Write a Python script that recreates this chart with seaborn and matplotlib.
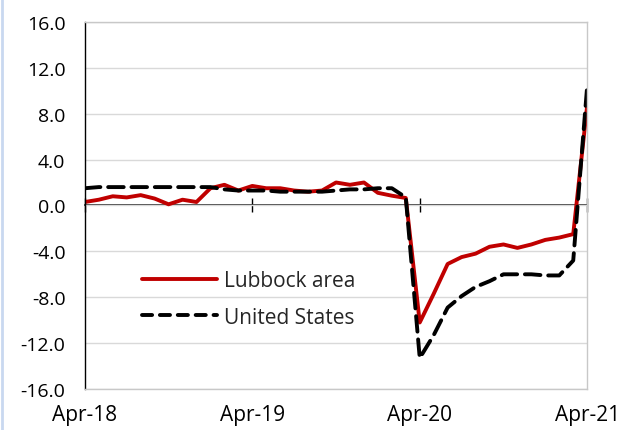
import numpy as np
import pandas as pd
import matplotlib.pyplot as plt
import seaborn as sns

# monthly year-over-year employment change (%), Apr-18 .. Apr-21
months = list(range(37))
lubbock = [0.3, 0.5, 0.8, 0.7, 0.9, 0.6, 0.1, 0.5, 0.3, 1.5,
           1.8, 1.3, 1.7, 1.5, 1.5, 1.3, 1.2, 1.3, 2.0, 1.8,
           2.0, 1.1, 0.85, 0.65, -10.2, -7.7, -5.1, -4.5, -4.2, -3.6,
           -3.4, -3.7, -3.4, -3.0, -2.8, -2.5, 8.7]
us = [1.5, 1.6, 1.6, 1.6, 1.6, 1.6, 1.6, 1.6, 1.6, 1.6,
      1.4, 1.3, 1.3, 1.3, 1.2, 1.2, 1.2, 1.2, 1.3, 1.4,
      1.4, 1.5, 1.5, 0.7, -13.3, -11.3, -8.9, -7.9, -7.1, -6.6,
      -6.0, -6.0, -6.0, -6.1, -6.1, -4.8, 10.4]
tick_pos = [0, 12, 24, 36]
tick_labels = ["Apr-18", "Apr-19", "Apr-20", "Apr-21"]
y_ticks = [-16, -12, -8, -4, 0, 4, 8, 12, 16]

df = pd.DataFrame({"month": months * 2,
                   "value": lubbock + us,
                   "series": ["Lubbock area"] * 37 + ["United States"] * 37})

sns.set_theme(style="white")
plt.rcParams["font.family"] = ["Open Sans", "DejaVu Sans"]

fig = plt.figure(figsize=(6.24, 4.31), dpi=100)
ax = fig.add_axes([0.136, 0.095, 0.805, 0.852])

ax.grid(axis="y", color="#d9d9d9", lw=1)
ax.set_axisbelow(True)

sns.lineplot(data=df, x="month", y="value", hue="series", style="series",
             palette={"Lubbock area": "#c00000", "United States": "black"},
             dashes={"Lubbock area": "", "United States": (4, 2)},
             lw=2.8, ax=ax)
for ln in ax.lines:
    ln.set_dash_capstyle("round")

ax.set_xlim(0, 36)
ax.set_ylim(-16, 16)
ax.set_yticks(y_ticks)
ax.set_yticklabels([f"{v:.1f}" for v in y_ticks])
ax.set_xticks(tick_pos)
ax.set_xticklabels(tick_labels)
ax.tick_params(axis="both", colors="black", length=0)
ax.tick_params(axis="x", labelsize=15, pad=11)
ax.tick_params(axis="y", labelsize=14, pad=14)
ax.set_xlabel("")
ax.set_ylabel("")

for s in ["top", "right", "bottom"]:
    ax.spines[s].set_color("#c8c8c8")
    ax.spines[s].set_linewidth(1)
ax.spines["left"].set_color("black")
ax.spines["left"].set_linewidth(1)

# zero line with crossing tick marks
sec = ax.secondary_xaxis(0.5)
sec.set_xticks(tick_pos)
sec.set_xticklabels([])
sec.tick_params(direction="inout", length=10, width=1, color="black")
sec.spines["bottom"].set_color("black")
sec.spines["bottom"].set_linewidth(1)

leg = ax.legend(loc="upper left", bbox_to_anchor=(0.077, 0.375), frameon=False,
                fontsize=15, handlelength=3.6, handletextpad=0.3,
                labelspacing=0.75)
for ln in leg.get_lines():
    ln.set_linewidth(2.8)
    ln.set_dash_capstyle("round")
leg.get_lines()[1].set_dashes((2.6, 2.0))

fig.add_artist(plt.Line2D([0.003, 0.003], [0, 1], color="#c9d8f0", lw=2,
                          transform=fig.transFigure))

fig.savefig("out.png", dpi=100)
